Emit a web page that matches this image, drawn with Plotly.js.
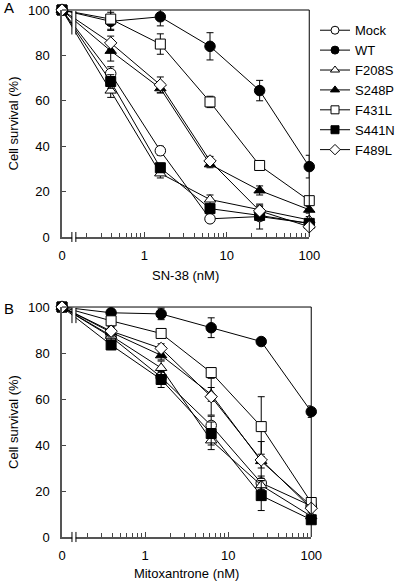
<!DOCTYPE html>
<html>
<head>
<meta charset="utf-8">
<script src="https://cdn.plot.ly/plotly-3.0.1.min.js"></script>
<style>html,body{margin:0;padding:0;background:#fff;}#chart{width:400px;height:581px;}</style>
</head>
<body>
<div id="chart"></div>
<script>
// Concentrations (nM); 0 = untreated control, drawn left of the axis break
const conc = [0, 0.39, 1.56, 6.25, 25, 100];
const seriesNames = ["Mock", "WT", "F208S", "S248P", "F431L", "S441N", "F489L"];

// Panel A: SN-38, cell survival (%)
const snMock  = [100, 72, 38, 8, 9, 6];
const snWT    = [100, 95, 97, 84, 64.5, 31];
const snF208S = [100, 64.5, 28, 16.5, 12, 7.5];
const snS248P = [100, 82, 65.5, 32, 20.5, 12];
const snF431L = [100, 96, 85, 59.5, 31.5, 16];
const snS441N = [100, 68.5, 30.5, 12.5, 9.5, 6];
const snF489L = [100, 85.5, 67, 33.5, 11.5, 4.5];
// Panel A error bars (±)
const snMockErr  = [0, 3, 2, 1.5, 5.5, 1.5];
const snWTErr    = [0, 4, 4, 6, 4.5, 5];
const snF208SErr = [0, 3, 2, 2, 2, 1.5];
const snS248PErr = [0, 4.5, 2, 1.5, 2, 1.5];
const snF431LErr = [0, 4.5, 4.5, 2.5, 1, 1];
const snS441NErr = [0, 3, 2, 1.5, 1.5, 1];
const snF489LErr = [0, 3, 3.5, 2, 2, 1];

// Panel B: Mitoxantrone, cell survival (%)
const mxMock  = [100, 87, 69.5, 48.5, 23.5, 13.5];
const mxWT    = [100, 97.5, 97, 91, 85, 54.5];
const mxF208S = [100, 87.5, 73.5, 42, 22.5, 9];
const mxS248P = [100, 89, 79, 62, 33, 13.5];
const mxF431L = [100, 94, 88.5, 71.5, 48, 15];
const mxS441N = [100, 83.5, 68.5, 45, 18, 7.5];
const mxF489L = [100, 89.5, 82, 61, 33.5, 12.5];
// Panel B error bars (±)
const mxMockErr  = [0, 2, 2, 4, 3, 1.5];
const mxWTErr    = [0, 1.5, 2.5, 4.3, 1, 2.5];
const mxF208SErr = [0, 2, 3, 4, 2, 1.5];
const mxS248PErr = [0, 2, 2, 3, 3, 1.5];
const mxF431LErr = [0, 2, 1.5, 2, 13, 1.5];
const mxS441NErr = [0, 2, 3.5, 5, 6.5, 1.5];
const mxF489LErr = [0, 2, 2, 8, 8, 1.5];

// Tick labels
const xTickVals = [0.1, 1, 10, 100];
const xTickText = ["0", "1", "10", "100"];
const xMinorVals = [0.2,0.3,0.4,0.5,0.6,0.7,0.8,0.9, 2,3,4,5,6,7,8,9, 20,30,40,50,60,70,80,90];
const yTickVals = [0, 20, 40, 60, 80, 100];

const styles = {
  "Mock":  {symbol: "circle", color: "#ffffff", size: 10.5},
  "WT":    {symbol: "circle", color: "#000000", size: 10.5},
  "F208S": {symbol: "triangle-up", color: "#ffffff", size: 10},
  "S248P": {symbol: "triangle-up", color: "#000000", size: 10},
  "F431L": {symbol: "square", color: "#ffffff", size: 10},
  "S441N": {symbol: "square", color: "#000000", size: 10},
  "F489L": {symbol: "diamond", color: "#ffffff", size: 9.5}
};

const dataA = {Mock: [snMock, snMockErr], WT: [snWT, snWTErr], F208S: [snF208S, snF208SErr], S248P: [snS248P, snS248PErr], F431L: [snF431L, snF431LErr], S441N: [snS441N, snS441NErr], F489L: [snF489L, snF489LErr]};
const dataB = {Mock: [mxMock, mxMockErr], WT: [mxWT, mxWTErr], F208S: [mxF208S, mxF208SErr], S248P: [mxS248P, mxS248PErr], F431L: [mxF431L, mxF431LErr], S441N: [mxS441N, mxS441NErr], F489L: [mxF489L, mxF489LErr]};

// Place 0 nM at the broken-axis origin (one decade below 1)
const xPos = conc.map(c => c === 0 ? 0.1 : c);

const traces = [];
function addPanel(data, xa, ya) {
  seriesNames.forEach(name => {
    const s = styles[name];
    traces.push({
      x: xPos, y: data[name][0], xaxis: xa, yaxis: ya,
      type: "scatter", mode: "lines+markers", name: name, showlegend: false, cliponaxis: false,
      line: {color: "#000", width: 1},
      marker: {symbol: s.symbol, color: s.color, size: s.size, line: {color: "#000", width: 1}},
      error_y: {type: "data", array: data[name][1], visible: true, color: "#000", thickness: 1, width: 3.5}
    });
  });
}
addPanel(dataA, "x", "y");
addPanel(dataB, "x2", "y2");
// Legend entries
seriesNames.forEach(name => {
  const s = styles[name];
  traces.push({
    x: [null], y: [null], xaxis: "x", yaxis: "y", type: "scatter", mode: "lines+markers", name: name,
    showlegend: true, line: {color: "#000", width: 1},
    marker: {symbol: s.symbol, color: s.color, size: 8, line: {color: "#000", width: 1}}
  });
});

const font = {family: "Liberation Sans, Arial, Helvetica, sans-serif", size: 13, color: "#000"};

function xAxis(title, domain, anchor) {
  return {
    type: "log", range: [-1, 2], domain: domain, anchor: anchor,
    tickmode: "array", tickvals: xTickVals, ticktext: xTickText,
    ticks: "inside", ticklen: 5, tickwidth: 1, tickcolor: "#444",
    minor: {tickmode: "array", tickvals: xMinorVals, ticks: "inside", ticklen: 4, tickwidth: 1, tickcolor: "#444", showgrid: false},
    showgrid: false, zeroline: false, showline: true, linecolor: "#555", linewidth: 1.6,
    ticklabelstandoff: 6,
    tickfont: font, title: {text: title, font: font, standoff: 9}, automargin: false
  };
}
function yAxis(domain, anchor) {
  return {
    range: [0, 100], domain: domain, anchor: anchor,
    tickmode: "array", tickvals: yTickVals,
    ticks: "inside", ticklen: 4, tickwidth: 1, tickcolor: "#444",
    showgrid: false, zeroline: false, showline: true, linecolor: "#555", linewidth: 1.6,
    ticklabelstandoff: 8,
    tickfont: font, title: {text: "Cell survival (%)", font: font, standoff: 6}, automargin: false
  };
}

function frameShapes(xd, yd, topBreak) {
  return [
    {type: "line", xref: xd, yref: yd, x0: 0, x1: 1, y0: 1, y1: 1, line: {color: "#000", width: 1}, layer: "above"},
    {type: "line", xref: xd, yref: yd, x0: 1, x1: 1, y0: 0, y1: 1, line: {color: "#000", width: 1}, layer: "above"},
    // axis break on x axis
    {type: "rect", xref: xd, yref: yd, x0: 0.041, x1: 0.055, y0: -0.03, y1: 0.03, fillcolor: "#fff", line: {width: 0}, layer: "above"},
    {type: "line", xref: xd, yref: yd, x0: 0.04, x1: 0.04, y0: -0.022, y1: 0.022, line: {color: "#000", width: 1}, layer: "above"},
    {type: "line", xref: xd, yref: yd, x0: 0.056, x1: 0.056, y0: -0.022, y1: 0.022, line: {color: "#000", width: 1}, layer: "above"},
    // break through the data lines
    {type: "rect", xref: xd, yref: yd, x0: 0.041, x1: 0.055, y0: topBreak, y1: 0.996, fillcolor: "#fff", line: {width: 0}, layer: "above"},
    {type: "line", xref: xd, yref: yd, x0: 0.04, x1: 0.04, y0: topBreak, y1: 0.996, line: {color: "#000", width: 1}, layer: "above"},
    {type: "line", xref: xd, yref: yd, x0: 0.056, x1: 0.056, y0: topBreak, y1: 0.996, line: {color: "#000", width: 1}, layer: "above"}
  ];
}

const layout = {
  width: 400, height: 581,
  margin: {l: 62, r: 0, t: 10, b: 44},
  paper_bgcolor: "#fff", plot_bgcolor: "#fff",
  font: font, showlegend: true,
  legend: {x: 0.75, y: 0.99, xanchor: "left", yanchor: "top", font: font, bgcolor: "rgba(0,0,0,0)", borderwidth: 0, tracegroupgap: 0, itemwidth: 30},
  xaxis: xAxis("SN-38 (nM)", [0, 0.7337], "y"),
  yaxis: yAxis([0.5693, 1], "x"),
  xaxis2: xAxis("Mitoxantrone (nM)", [0, 0.7396], "y2"),
  yaxis2: yAxis([0, 0.4364], "x2"),
  shapes: frameShapes("x domain", "y domain", 0.892).concat(frameShapes("x2 domain", "y2 domain", 0.93)),
  annotations: [
    {text: "A", xref: "paper", yref: "paper", x: -0.178, y: 1.004, xanchor: "left", yanchor: "middle", showarrow: false, font: {family: font.family, size: 15, color: "#000"}},
    {text: "B", xref: "paper", yref: "paper", x: -0.178, y: 0.4345, xanchor: "left", yanchor: "middle", showarrow: false, font: {family: font.family, size: 15, color: "#000"}}
  ]
};

Plotly.newPlot("chart", traces, layout, {staticPlot: true, displayModeBar: false});
</script>
</body>
</html>
